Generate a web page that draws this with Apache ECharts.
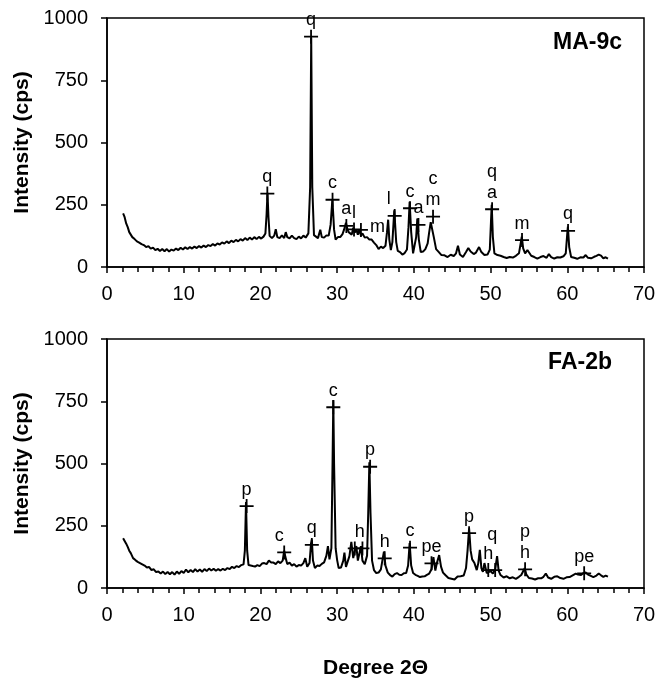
<!DOCTYPE html>
<html>
<head>
<meta charset="utf-8">
<script src="https://cdn.jsdelivr.net/npm/echarts@6/dist/echarts.min.js"></script>
<style>
  html, body { margin: 0; padding: 0; background: #fff; }
  #chart { width: 661px; height: 686px; }
</style>
</head>
<body>
<div id="chart"></div>
<script>
// x-axis ticks (degree 2-theta) and y-axis ticks (cps)
const thetaTicks = [0, 10, 20, 30, 40, 50, 60, 70]
const countTicks = [0, 250, 500, 750, 1000]

// MA-9c pattern, [2theta, cps]
const maPattern = [
  [2.1,215],[2.3,200],[2.5,175],[2.7,160],[2.9,140],[3.1,132],[3.3,120],[3.6,112],[3.9,103],[4.2,98],
  [4.5,92],[4.8,88],[5.1,80],[5.4,84],[5.7,74],[6.0,78],[6.3,68],[6.6,73],[6.9,64],[7.2,72],
  [7.5,63],[7.8,72],[8.1,62],[8.4,70],[8.7,66],[9.0,74],[9.3,68],[9.6,77],[9.9,70],[10.2,79],
  [10.5,72],[10.8,80],[11.1,74],[11.4,82],[11.7,76],[12.0,84],[12.3,78],[12.6,86],[12.9,80],[13.2,88],
  [13.5,84],[13.8,92],[14.1,86],[14.4,95],[14.7,90],[15.0,99],[15.3,94],[15.6,103],[15.9,96],[16.2,106],
  [16.5,100],[16.8,109],[17.1,103],[17.4,112],[17.7,106],[18.0,116],[18.3,108],[18.6,118],[18.9,110],[19.2,120],
  [19.5,112],[19.8,121],[20.1,114],[20.4,122],[20.65,135],[20.8,210],[20.92,298],[21.05,200],[21.2,125],[21.5,116],
  [21.8,126],[22.0,152],[22.2,120],[22.5,116],[22.8,127],[23.1,116],[23.3,140],[23.5,120],[23.8,115],[24.1,126],
  [24.4,116],[24.7,112],[25.0,122],[25.3,115],[25.6,126],[25.9,118],[26.25,135],[26.48,320],[26.62,922],[26.76,320],
  [26.98,128],[27.2,120],[27.5,116],[27.8,150],[28.0,120],[28.3,118],[28.6,127],[28.9,126],[29.15,170],[29.38,272],
  [29.6,150],[29.8,110],[30.1,120],[30.4,120],[30.7,132],[30.9,150],[31.15,178],[31.35,150],[31.5,140],[31.7,145],
  [31.9,130],[32.1,158],[32.3,138],[32.5,150],[32.7,130],[32.9,150],[33.1,126],[33.3,135],[33.6,118],[33.9,120],
  [34.2,110],[34.5,110],[34.8,98],[35.1,88],[35.4,72],[35.7,82],[36.0,76],[36.3,85],[36.5,140],[36.65,190],
  [36.8,110],[37.0,68],[37.2,100],[37.45,228],[37.7,100],[37.9,65],[38.2,60],[38.5,50],[38.8,56],[39.1,70],
  [39.3,160],[39.45,262],[39.65,140],[39.9,55],[40.1,60],[40.3,120],[40.45,195],[40.65,110],[40.9,60],[41.2,62],
  [41.5,72],[41.8,95],[42.0,140],[42.2,180],[42.35,185],[42.6,120],[42.9,72],[43.2,62],[43.6,48],[44.0,47],
  [44.4,40],[44.8,49],[45.2,44],[45.5,55],[45.75,85],[46.0,50],[46.4,40],[46.8,60],[47.1,76],[47.4,62],
  [47.8,52],[48.1,58],[48.5,80],[48.8,60],[49.2,48],[49.6,50],[49.9,70],[50.05,180],[50.15,250],[50.3,120],
  [50.5,55],[50.9,48],[51.3,45],[51.7,40],[52.1,36],[52.5,40],[52.9,38],[53.3,45],[53.7,55],[53.95,100],
  [54.07,122],[54.25,75],[54.5,55],[54.8,68],[55.0,62],[55.3,45],[55.7,40],[56.1,34],[56.5,40],[56.9,44],
  [57.3,37],[57.6,52],[57.9,40],[58.3,34],[58.7,39],[59.1,38],[59.5,43],[59.8,55],[60.0,135],[60.08,162],
  [60.25,80],[60.5,40],[60.9,37],[61.3,33],[61.7,39],[62.1,38],[62.4,48],[62.7,37],[63.1,35],[63.5,41],
  [63.8,45],[64.1,50],[64.4,46],[64.7,35],[65.0,39],[65.3,34]
]

// FA-2b pattern, [2theta, cps]
const faPattern = [
  [2.1,200],[2.3,192],[2.5,178],[2.7,165],[2.9,150],[3.1,140],[3.4,120],[3.7,112],[4.0,105],[4.3,100],
  [4.6,95],[4.9,90],[5.2,82],[5.5,84],[5.8,72],[6.1,75],[6.4,64],[6.7,66],[7.0,58],[7.3,66],
  [7.6,56],[7.9,64],[8.2,55],[8.5,64],[8.8,54],[9.1,66],[9.4,57],[9.7,68],[10.0,60],[10.3,74],
  [10.6,63],[10.9,72],[11.2,64],[11.5,76],[11.8,66],[12.1,74],[12.4,65],[12.7,76],[13.0,68],[13.3,78],
  [13.6,70],[13.9,77],[14.2,69],[14.5,76],[14.8,70],[15.1,77],[15.4,72],[15.7,80],[16.0,76],[16.3,85],
  [16.6,80],[16.9,88],[17.2,84],[17.5,92],[17.8,95],[17.97,150],[18.12,345],[18.27,150],[18.45,92],[18.7,86],
  [19.0,88],[19.3,86],[19.6,92],[19.9,88],[20.2,98],[20.5,100],[20.8,96],[21.1,110],[21.4,102],[21.7,102],
  [22.0,96],[22.3,107],[22.6,100],[22.9,110],[23.1,150],[23.25,125],[23.5,96],[23.8,102],[24.1,90],[24.4,96],
  [24.7,86],[25.0,92],[25.3,90],[25.6,100],[25.85,120],[26.1,85],[26.4,100],[26.6,180],[26.7,195],[26.85,110],
  [27.1,80],[27.4,90],[27.7,88],[28.0,97],[28.3,103],[28.6,130],[28.8,168],[29.0,115],[29.25,160],[29.4,500],
  [29.5,755],[29.6,500],[29.8,160],[30.0,112],[30.2,80],[30.5,82],[30.8,110],[30.95,142],[31.15,85],[31.4,80],
  [31.6,128],[31.85,185],[32.1,120],[32.3,150],[32.5,168],[32.7,110],[32.9,115],[33.1,168],[33.3,110],[33.6,95],
  [33.9,130],[34.05,300],[34.2,505],[34.35,300],[34.55,110],[34.8,72],[35.1,60],[35.4,62],[35.7,75],[35.95,120],
  [36.1,146],[36.3,90],[36.6,62],[36.9,52],[37.2,46],[37.5,56],[37.8,60],[38.1,53],[38.4,52],[38.7,59],
  [39.0,60],[39.25,90],[39.45,180],[39.65,90],[39.9,60],[40.2,53],[40.5,49],[40.8,44],[41.1,46],[41.4,47],
  [41.7,53],[42.0,58],[42.3,75],[42.55,124],[42.8,70],[43.0,100],[43.3,132],[43.55,85],[43.8,62],[44.1,52],
  [44.5,40],[44.9,37],[45.3,34],[45.7,46],[46.1,47],[46.5,50],[46.8,80],[47.0,150],[47.2,240],[47.4,150],
  [47.6,115],[47.9,100],[48.2,72],[48.4,100],[48.6,153],[48.8,80],[49.0,65],[49.2,100],[49.35,105],[49.5,60],
  [49.7,52],[50.0,68],[50.3,58],[50.6,75],[50.85,128],[51.05,70],[51.3,52],[51.7,42],[52.1,47],[52.5,39],
  [52.9,43],[53.3,37],[53.7,45],[54.0,52],[54.3,70],[54.45,80],[54.65,55],[55.0,40],[55.4,38],[55.8,34],
  [56.2,39],[56.6,39],[56.9,45],[57.2,58],[57.5,42],[57.9,37],[58.3,45],[58.7,47],[59.1,40],[59.5,37],
  [59.9,43],[60.3,44],[60.7,51],[61.1,58],[61.4,54],[61.8,52],[62.1,60],[62.4,62],[62.7,54],[63.0,50],
  [63.4,44],[63.8,50],[64.1,58],[64.4,51],[64.7,45],[65.0,50],[65.3,46]
]

// identified phases (the "+" marks)
const maPeakTheta = [20.9, 26.6, 29.4, 31.2, 32.2, 33.1, 37.5, 39.5, 40.6, 42.5, 50.2, 54.1, 60.1]
const maPeakCps   = [295, 925, 270, 165, 151, 149, 205, 236, 169, 202, 232, 108, 145]
const maPeakPhase = ['q', 'q', 'c', 'a', 'l', 'm', 'l', 'c', 'a', 'c\nm', 'q\na', 'm', 'q']

const faPeakTheta = [18.2, 23.1, 26.7, 29.5, 32.3, 33.3, 34.3, 36.2, 39.5, 42.3, 47.2, 49.7, 50.6, 54.5, 62.2]
const faPeakCps   = [329, 143, 173, 726, 159, 159, 487, 119, 162, 99, 220, 72, 72, 75, 59]
const faPeakPhase = ['p', 'c', 'q', 'c', 'h', '', 'p', 'h', 'c', 'pe', 'p', 'h', 'q', 'p\nh', 'pe']

const sampleNames = ['MA-9c', 'FA-2b']

const font = "'Liberation Sans', Arial, Helvetica, sans-serif"
const plus = 'path://M0,6.1L14,6.1L14,7.9L0,7.9Z M6.1,0L7.9,0L7.9,14L6.1,14Z'

// label nudges where the letter is not straight above the mark
const labelTweak = [
  { 5: { position: 'right', distance: 2, offset: [0, -3] }, 6: { offset: [-6, 0] } },
  { 1: { offset: [-5, 0] }, 4: { offset: [5, 0] }, 12: { offset: [-3, -19] } }
]

function markData(xs, ys, names, tweak) {
  return xs.map((x, i) => {
    let item = { name: names[i], value: [x, ys[i]] }
    if (tweak[i]) item.label = tweak[i]
    return item
  })
}

const nameStyle = { color: '#000', fontSize: 21, fontWeight: 'bold', fontFamily: font }

function xAxisOf(gi, name) {
  return {
    type: 'value', gridIndex: gi,
    min: thetaTicks[0], max: thetaTicks[thetaTicks.length - 1], interval: 10,
    axisLine: { show: true, onZero: false, lineStyle: { color: '#000', width: 1.5 } },
    axisTick: { show: true, length: 6, lineStyle: { color: '#000', width: 1.5 } },
    minorTick: { show: true, splitNumber: 5, length: 5, lineStyle: { color: '#000', width: 1.5 } },
    splitLine: { show: false },
    axisLabel: { color: '#000', fontSize: 20, fontFamily: font, margin: 17 },
    name: name, nameLocation: 'middle', nameGap: 70, nameTextStyle: nameStyle
  }
}

function yAxisOf(gi) {
  return {
    type: 'value', gridIndex: gi,
    min: countTicks[0], max: countTicks[countTicks.length - 1], interval: 250,
    axisLine: { show: true, lineStyle: { color: '#000', width: 1.5 } },
    axisTick: { show: true, length: 6, lineStyle: { color: '#000', width: 1.5 } },
    splitLine: { show: false },
    axisLabel: { color: '#000', fontSize: 20, fontFamily: font, margin: 19, formatter: v => String(v) },
    name: 'Intensity (cps)', nameLocation: 'middle', nameGap: 68, nameTextStyle: nameStyle
  }
}

function patternSeries(gi, data) {
  return {
    type: 'line', xAxisIndex: gi, yAxisIndex: gi, data: data,
    symbol: 'none', silent: true, z: 2,
    lineStyle: { color: '#000', width: 2 }
  }
}

function markSeries(gi, data) {
  return {
    type: 'scatter', xAxisIndex: gi, yAxisIndex: gi, data: data,
    symbol: plus, symbolSize: 14, silent: true, z: 3,
    itemStyle: { color: '#000', opacity: 1 },
    label: {
      show: true, position: 'top', distance: -1,
      formatter: p => p.name,
      color: '#000', fontSize: 18, lineHeight: 21, fontFamily: font
    }
  }
}

let myChart = echarts.init(document.getElementById('chart'))
myChart.setOption({
  animation: false,
  backgroundColor: '#fff',
  title: [
    { text: sampleNames[0], right: 39, top: 31, padding: 0,
      textStyle: { color: '#000', fontSize: 23, fontWeight: 'bold', fontFamily: font } },
    { text: sampleNames[1], right: 49, top: 351, padding: 0,
      textStyle: { color: '#000', fontSize: 23, fontWeight: 'bold', fontFamily: font } }
  ],
  grid: [
    { left: 107, top: 18, width: 537, height: 249, show: true, borderColor: '#000', borderWidth: 1.5 },
    { left: 107, top: 339, width: 537, height: 249, show: true, borderColor: '#000', borderWidth: 1.5 }
  ],
  xAxis: [xAxisOf(0, ''), xAxisOf(1, 'Degree 2Θ')],
  yAxis: [yAxisOf(0), yAxisOf(1)],
  series: [
    patternSeries(0, maPattern),
    patternSeries(1, faPattern),
    markSeries(0, markData(maPeakTheta, maPeakCps, maPeakPhase, labelTweak[0])),
    markSeries(1, markData(faPeakTheta, faPeakCps, faPeakPhase, labelTweak[1]))
  ]
})
</script>
</body>
</html>
